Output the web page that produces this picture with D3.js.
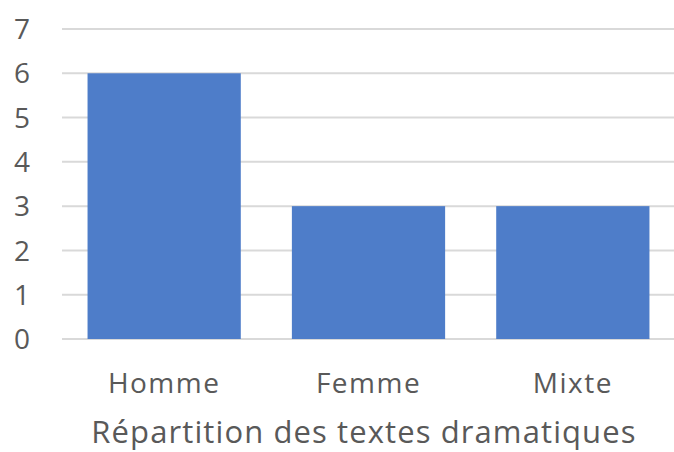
<!DOCTYPE html>
<html>
<head>
<meta charset="utf-8">
<script src="https://cdn.jsdelivr.net/npm/d3@7"></script>
<style>
  body { margin: 0; background: #fff; }
  text { font-family: "Open Sans", "Liberation Sans", sans-serif; fill: #595959; }
</style>
</head>
<body>
<div id="chart"></div>
<script>
// chart data
const categories = ["Homme", "Femme", "Mixte"];
const values = [6, 3, 3];
const yTicks = [0, 1, 2, 3, 4, 5, 6, 7];
const axisTitle = "Répartition des textes dramatiques";

const width = 674;
const height = 452;
const margin = {left: 62, right: -1, top: 29, bottom: 113};

const svg = d3.select("#chart")
  .append("svg")
  .attr("width", width)
  .attr("height", height);

// y scale from 0 to 7
const yScale = d3.scaleLinear()
  .domain([0, 7])
  .range([height - margin.bottom, margin.top]);

// band scale for the three categories
const xScale = d3.scaleBand()
  .domain(categories)
  .range([margin.left, width - margin.right])
  .paddingInner(0.25)
  .paddingOuter(0.125);

// horizontal gridlines
svg.append("g")
  .selectAll("line")
  .data(yTicks)
  .enter()
  .append("line")
    .attr("x1", margin.left)
    .attr("x2", width)
    .attr("y1", d => yScale(d))
    .attr("y2", d => yScale(d))
    .attr("stroke", "#d9d9d9")
    .attr("stroke-width", 2);

// y tick labels
svg.append("g")
  .selectAll("text")
  .data(yTicks)
  .enter()
  .append("text")
    .attr("x", 30)
    .attr("y", d => yScale(d))
    .attr("dy", "0.36em")
    .attr("text-anchor", "end")
    .attr("font-size", "28px")
    .text(d => d);

// bars
svg.append("g")
  .selectAll("rect")
  .data(values)
  .enter()
  .append("rect")
    .attr("x", (d, i) => xScale(categories[i]))
    .attr("y", d => yScale(d))
    .attr("width", xScale.bandwidth())
    .attr("height", d => yScale(0) - yScale(d))
    .attr("fill", "#4e7dc9");

// category labels
svg.append("g")
  .selectAll("text")
  .data(categories)
  .enter()
  .append("text")
    .attr("x", d => xScale(d) + xScale.bandwidth() / 2)
    .attr("y", 393)
    .attr("text-anchor", "middle")
    .attr("font-size", "28px")
    .attr("letter-spacing", "1.5px")
    .text(d => d);

// axis title
svg.append("text")
  .attr("x", 364)
  .attr("y", 443)
  .attr("text-anchor", "middle")
  .attr("font-size", "31px")
  .attr("letter-spacing", "1.1px")
  .text(axisTitle);
</script>
</body>
</html>
